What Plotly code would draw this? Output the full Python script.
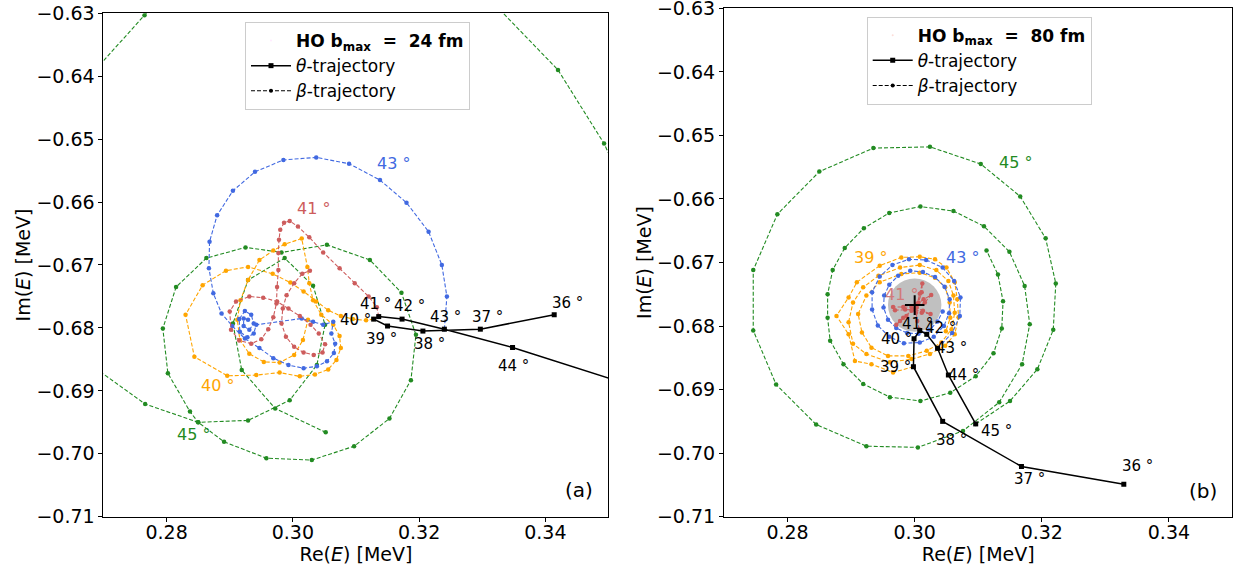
import plotly.graph_objects as go

FONT = "DejaVu Sans"
BLUE = "#4169E1"
RED = "#CD5C5C"
ORANGE = "#FFA500"
GREEN = "#228B22"

# ---------------- data : panel (a)  HO b_max = 24 fm ----------------
theta_angles = [36, 37, 38, 39, 40, 41, 42, 43, 44, 45]
theta_a_x = [0.3414, 0.3297, 0.3206, 0.3150, 0.3128, 0.3136, 0.3173, 0.3240, 0.3348, 0.3600]
theta_a_y = [-0.6779, -0.6802, -0.6805, -0.6797, -0.6786, -0.6782, -0.6786, -0.6802, -0.6831, -0.6912]

beta_a40_x = [0.3128, 0.3116, 0.3095, 0.3076, 0.3056, 0.3037, 0.3017, 0.2996, 0.2968, 0.2929,
              0.2894, 0.2857, 0.2830, 0.2844, 0.2896, 0.2942, 0.2979, 0.3011, 0.3035, 0.3056,
              0.3069, 0.3076, 0.3074, 0.3064, 0.3045, 0.3032, 0.3026, 0.3023, 0.3014, 0.2987,
              0.2969, 0.2947, 0.2929, 0.2917, 0.2912, 0.2916, 0.2931, 0.2954, 0.2979, 0.3002,
              0.3016, 0.3024]
beta_a40_y = [-0.6786, -0.6788, -0.6786, -0.6781, -0.6772, -0.6758, -0.6742, -0.6728, -0.6714, -0.6703,
              -0.6709, -0.6732, -0.6779, -0.6846, -0.6876, -0.6875, -0.6871, -0.6877, -0.6874, -0.6866,
              -0.6851, -0.6832, -0.6813, -0.6795, -0.6779, -0.6756, -0.6729, -0.6703, -0.6658, -0.6667,
              -0.6677, -0.6692, -0.6724, -0.6756, -0.6787, -0.6819, -0.6841, -0.6854, -0.6855, -0.6843,
              -0.6819, -0.6787]

beta_a41_x = [0.3136, 0.3133, 0.3120, 0.3098, 0.3074, 0.3048, 0.3026, 0.3008, 0.2995, 0.2986,
              0.2980, 0.2978, 0.2977, 0.2977, 0.2975, 0.2974, 0.2969, 0.2961, 0.2950, 0.2934,
              0.2915, 0.2902, 0.2900, 0.2910, 0.2931, 0.2953, 0.2975, 0.2993, 0.3011, 0.3028,
              0.3041, 0.3051, 0.3047, 0.3033, 0.3017, 0.3002, 0.2989, 0.2982, 0.2984, 0.2990,
              0.3002, 0.3015, 0.3027]
beta_a41_y = [-0.6782, -0.6767, -0.6750, -0.6729, -0.6705, -0.6680, -0.6656, -0.6639, -0.6630, -0.6633,
              -0.6644, -0.6660, -0.6681, -0.6708, -0.6735, -0.6761, -0.6783, -0.6802, -0.6818, -0.6825,
              -0.6820, -0.6803, -0.6774, -0.6758, -0.6750, -0.6752, -0.6758, -0.6769, -0.6781, -0.6795,
              -0.6809, -0.6826, -0.6839, -0.6843, -0.6839, -0.6830, -0.6814, -0.6793, -0.6769, -0.6748,
              -0.6729, -0.6714, -0.6709]

beta_a43_x = [0.3240, 0.3244, 0.3236, 0.3215, 0.3180, 0.3138, 0.3089, 0.3037, 0.2985, 0.2940,
              0.2905, 0.2880, 0.2868, 0.2867, 0.2874, 0.2887, 0.2904, 0.2924, 0.2947, 0.2969,
              0.2993, 0.3017, 0.3038, 0.3054, 0.3065, 0.3067, 0.3061, 0.3064, 0.3048, 0.3032,
              0.3014, 0.2942, 0.2938, 0.2928, 0.2916, 0.2915, 0.2924, 0.2934, 0.2938, 0.2931,
              0.2922, 0.2922, 0.2929]
beta_a43_y = [-0.6802, -0.6750, -0.6700, -0.6647, -0.6601, -0.6565, -0.6539, -0.6529, -0.6533, -0.6552,
              -0.6582, -0.6621, -0.6663, -0.6705, -0.6745, -0.6777, -0.6797, -0.6817, -0.6832, -0.6848,
              -0.6859, -0.6864, -0.6861, -0.6853, -0.6840, -0.6825, -0.6809, -0.6790, -0.6795, -0.6790,
              -0.6785, -0.6795, -0.6809, -0.6815, -0.6806, -0.6786, -0.6773, -0.6779, -0.6793, -0.6803,
              -0.6797, -0.6785, -0.6787]

beta_a45_x = [0.3600, 0.3545, 0.3493, 0.3420, 0.3290, 0.3120, 0.2960, 0.2830, 0.2765, 0.2660,
              0.2610, 0.2595, 0.2640, 0.2766, 0.2850, 0.2891, 0.2958, 0.3030, 0.3097, 0.3153,
              0.3187, 0.3195, 0.3172, 0.3122, 0.3054, 0.2982, 0.2925, 0.2863, 0.2815, 0.2794,
              0.2802, 0.2837, 0.2850, 0.2929, 0.2995, 0.3038, 0.3051, 0.3032, 0.2987, 0.2929,
              0.2905, 0.2919, 0.2972, 0.3052]
beta_a45_y = [-0.6912, -0.6620, -0.6507, -0.6390, -0.6255, -0.6170, -0.6165, -0.6240, -0.6303, -0.6420,
              -0.6560, -0.6720, -0.6830, -0.6921, -0.6950, -0.6981, -0.7007, -0.7010, -0.6988, -0.6944,
              -0.6883, -0.6811, -0.6744, -0.6692, -0.6668, -0.6680, -0.6672, -0.6689, -0.6735, -0.6801,
              -0.6872, -0.6933, -0.6950, -0.6947, -0.6915, -0.6859, -0.6795, -0.6733, -0.6689, -0.6724,
              -0.6793, -0.6867, -0.6928, -0.6966]

# ---------------- data : panel (b)  HO b_max = 80 fm ----------------
theta_b_x = [0.3329, 0.3168, 0.3044, 0.2998, 0.2999, 0.3008, 0.3019, 0.3036, 0.3053, 0.3096]
theta_b_y = [-0.7049, -0.7021, -0.6950, -0.6864, -0.6820, -0.6807, -0.6813, -0.6835, -0.6877, -0.6954]

beta_b39_x = [0.2998, 0.2966, 0.2932, 0.2906, 0.2896, 0.2877, 0.2896, 0.2909, 0.2945, 0.2979,
              0.3008, 0.3032, 0.3050, 0.3063, 0.3067, 0.3069, 0.3063, 0.3048, 0.3024, 0.2995,
              0.2961, 0.2924, 0.2903, 0.2896, 0.2903, 0.2919, 0.2943, 0.2977, 0.3008, 0.3034,
              0.3053, 0.3061, 0.3063, 0.3058, 0.3042, 0.3019, 0.2990, 0.2958, 0.2932, 0.2917,
              0.2911, 0.2924, 0.2945, 0.2979, 0.3008, 0.3032, 0.3048, 0.3055, 0.3056, 0.3049]
beta_b39_y = [-0.6864, -0.6873, -0.6860, -0.6855, -0.6813, -0.6784, -0.6755, -0.6731, -0.6705, -0.6692,
              -0.6691, -0.6695, -0.6708, -0.6731, -0.6758, -0.6786, -0.6813, -0.6831, -0.6844, -0.6852,
              -0.6857, -0.6844, -0.6828, -0.6794, -0.6763, -0.6739, -0.6721, -0.6708, -0.6704, -0.6712,
              -0.6729, -0.6752, -0.6779, -0.6805, -0.6826, -0.6839, -0.6847, -0.6847, -0.6834, -0.6810,
              -0.6781, -0.6752, -0.6731, -0.6718, -0.6716, -0.6724, -0.6739, -0.6763, -0.6787, -0.6808]

beta_b41_x = [0.3007, 0.3004, 0.3002, 0.3006, 0.3011, 0.3012, 0.3008, 0.3004, 0.3014, 0.3026,
              0.3016, 0.3003, 0.3013, 0.3025, 0.3011, 0.2995, 0.2982, 0.2966, 0.2969, 0.2985,
              0.2997, 0.2987, 0.2977, 0.2971, 0.2982, 0.2995]
beta_b41_y = [-0.6805, -0.6792, -0.6779, -0.6763, -0.6747, -0.6733, -0.6749, -0.6765, -0.6758, -0.6751,
              -0.6763, -0.6771, -0.6776, -0.6781, -0.6779, -0.6770, -0.6770, -0.6770, -0.6775, -0.6774,
              -0.6774, -0.6784, -0.6792, -0.6798, -0.6787, -0.6776]

beta_b43_x = [0.3036, 0.3059, 0.3071, 0.3072, 0.3062, 0.3044, 0.3018, 0.2991, 0.2965, 0.2945,
              0.2933, 0.2933, 0.2942, 0.2960, 0.2983, 0.3008, 0.3030, 0.3046, 0.3054, 0.3055,
              0.3047, 0.3032, 0.3013, 0.2993, 0.2974, 0.2960, 0.2952, 0.2951, 0.2958, 0.2971,
              0.2988, 0.3006, 0.3024, 0.3036, 0.3044]
beta_b43_y = [-0.6835, -0.6811, -0.6784, -0.6755, -0.6729, -0.6708, -0.6696, -0.6695, -0.6704, -0.6722,
              -0.6747, -0.6774, -0.6799, -0.6817, -0.6827, -0.6826, -0.6817, -0.6800, -0.6780, -0.6758,
              -0.6738, -0.6723, -0.6715, -0.6713, -0.6721, -0.6735, -0.6752, -0.6771, -0.6790, -0.6803,
              -0.6811, -0.6812, -0.6806, -0.6793, -0.6777]

beta_b45_x = [0.3096, 0.3150, 0.3193, 0.3218, 0.3222, 0.3206, 0.3166, 0.3104, 0.3024, 0.2935,
              0.2850, 0.2784, 0.2746, 0.2746, 0.2782, 0.2845, 0.2924, 0.3005, 0.3076, 0.3133,
              0.3169, 0.3181, 0.3173, 0.3149, 0.3109, 0.3061, 0.3009, 0.2960, 0.2920, 0.2890,
              0.2871, 0.2863, 0.2863, 0.2867, 0.2888, 0.2919, 0.2961, 0.3009, 0.3056, 0.3096,
              0.3124, 0.3137, 0.3139, 0.3131, 0.3113]
beta_b45_y = [-0.6954, -0.6918, -0.6868, -0.6806, -0.6733, -0.6662, -0.6596, -0.6545, -0.6518, -0.6520,
              -0.6557, -0.6624, -0.6712, -0.6807, -0.6892, -0.6955, -0.6989, -0.6991, -0.6965, -0.6920,
              -0.6860, -0.6797, -0.6737, -0.6683, -0.6643, -0.6619, -0.6612, -0.6622, -0.6646, -0.6677,
              -0.6712, -0.6750, -0.6787, -0.6823, -0.6860, -0.6891, -0.6912, -0.6918, -0.6905, -0.6879,
              -0.6843, -0.6804, -0.6761, -0.6719, -0.6681]

pole_b = (0.3000, -0.6767)
pole_b_radius = 0.0042

x_ticks = [0.28, 0.30, 0.32, 0.34]
y_ticks = [-0.71, -0.70, -0.69, -0.68, -0.67, -0.66, -0.65, -0.64, -0.63]

for a, b in [(beta_a40_x, beta_a40_y), (beta_a41_x, beta_a41_y), (beta_a43_x, beta_a43_y),
             (beta_a45_x, beta_a45_y), (beta_b39_x, beta_b39_y), (beta_b41_x, beta_b41_y),
             (beta_b43_x, beta_b43_y), (beta_b45_x, beta_b45_y)]:
    assert len(a) == len(b)

# ---------------- figure ----------------
fig = go.Figure()


def beta_trace(x, y, color, xa, ya):
    return go.Scatter(x=x, y=y, mode="lines+markers", xaxis=xa, yaxis=ya,
                      line=dict(color=color, width=1.1, dash="4px,2px"),
                      marker=dict(color=color, size=4.5), showlegend=False, hoverinfo="skip")


# pole area (b)
fig.add_shape(type="circle", xref="x2", yref="y2",
              x0=pole_b[0] - pole_b_radius, x1=pole_b[0] + pole_b_radius,
              y0=pole_b[1] - pole_b_radius, y1=pole_b[1] + pole_b_radius,
              fillcolor="#c0c0c0", line=dict(width=0), layer="below")

# panel a
fig.add_trace(beta_trace(beta_a45_x, beta_a45_y, GREEN, "x", "y"))
fig.add_trace(beta_trace(beta_a40_x, beta_a40_y, ORANGE, "x", "y"))
fig.add_trace(beta_trace(beta_a43_x, beta_a43_y, BLUE, "x", "y"))
fig.add_trace(beta_trace(beta_a41_x, beta_a41_y, RED, "x", "y"))
# panel b
fig.add_trace(beta_trace(beta_b45_x, beta_b45_y, GREEN, "x2", "y2"))
fig.add_trace(beta_trace(beta_b39_x, beta_b39_y, ORANGE, "x2", "y2"))
fig.add_trace(beta_trace(beta_b43_x, beta_b43_y, BLUE, "x2", "y2"))
fig.add_trace(beta_trace(beta_b41_x, beta_b41_y, RED, "x2", "y2"))

for xa, ya, lg, title, tx, ty in [("x", "y", "legend", "24", theta_a_x, theta_a_y),
                                  ("x2", "y2", "legend2", "80", theta_b_x, theta_b_y)]:
    fig.add_trace(go.Scatter(x=[None], y=[None], mode="markers", xaxis=xa, yaxis=ya, legend=lg,
                             marker=dict(size=1, opacity=0),
                             name="<b>HO b<sub>max</sub>  =  " + title + " fm</b>"))
    fig.add_trace(go.Scatter(x=tx, y=ty, mode="lines+markers", xaxis=xa, yaxis=ya, legend=lg,
                             line=dict(color="black", width=1.5),
                             marker=dict(color="black", size=5, symbol="square"),
                             name="<i>θ</i>-trajectory", hoverinfo="skip"))
    fig.add_trace(go.Scatter(x=[None], y=[None], mode="lines+markers", xaxis=xa, yaxis=ya, legend=lg,
                             line=dict(color="black", width=1.1, dash="4px,2px"),
                             marker=dict(color="black", size=4),
                             name="<i>β</i>-trajectory"))

fig.add_trace(go.Scatter(x=[pole_b[0]], y=[pole_b[1]], mode="markers", xaxis="x2", yaxis="y2",
                         marker=dict(symbol="cross-thin", size=14, line=dict(color="black", width=2)),
                         showlegend=False, hoverinfo="skip"))

annotations = []
off_a = [(13, -12), (7, -12), (7, 13), (-6, 13), (-18, 1), (-3, -13), (7, -13), (1, -12), (1, 19), None]
off_b = [(14, -18), (8, 13), (9, 19), (-18, 0), (-18, 0), (-2, -7), (14, -6), (14, 0), (15, 0), (21, 7)]
for xr, yr, tx, ty, offs in [("x", "y", theta_a_x, theta_a_y, off_a), ("x2", "y2", theta_b_x, theta_b_y, off_b)]:
    for ang, px, py, o in zip(theta_angles, tx, ty, offs):
        if o is None:
            continue
        annotations.append(dict(x=px, y=py, xref=xr, yref=yr, text=f"{ang} °", showarrow=False,
                                xshift=o[0], yshift=-o[1], font=dict(family=FONT, size=15, color="black")))

for xr, yr, px, py, txt, col in [
        ("x", "y", 0.3159, -0.6539, "43 °", BLUE),
        ("x", "y", 0.3032, -0.6610, "41 °", RED),
        ("x", "y", 0.2881, -0.6891, "40 °", ORANGE),
        ("x", "y", 0.2842, -0.6970, "45 °", GREEN),
        ("x2", "y2", 0.2930, -0.6692, "39 °", ORANGE),
        ("x2", "y2", 0.3076, -0.6692, "43 °", BLUE),
        ("x2", "y2", 0.3158, -0.6543, "45 °", GREEN),
        ("x2", "y2", 0.2979, -0.6751, "41 °", "#d27a7a")]:
    annotations.append(dict(x=px, y=py, xref=xr, yref=yr, text=txt, showarrow=False,
                            font=dict(family=FONT, size=16, color=col)))

annotations.append(dict(x=0.3453, y=-0.7058, xref="x", yref="y", text="(a)", showarrow=False,
                        font=dict(family=FONT, size=20, color="black")))
annotations.append(dict(x=0.3454, y=-0.7059, xref="x2", yref="y2", text="(b)", showarrow=False,
                        font=dict(family=FONT, size=20, color="black")))

axis_common = dict(showline=True, mirror=True, linecolor="black", linewidth=1, ticks="outside",
                   ticklen=4, tickwidth=1, tickcolor="black", showgrid=False, zeroline=False,
                   automargin=False, ticklabeloverflow="allow",
                   tickfont=dict(family=FONT, size=19, color="black"),
                   title_font=dict(family=FONT, size=19, color="black"))

fig.update_layout(
    width=1242, height=574, margin=dict(l=0, r=0, t=0, b=0, autoexpand=False),
    paper_bgcolor="white", plot_bgcolor="white",
    font=dict(family=FONT, color="black"),
    xaxis=dict(domain=[0.08333, 0.48993], range=[0.27, 0.35], anchor="y", tickvals=x_ticks,
               tickformat=".2f", ticklabelstandoff=-5,
               title=dict(text="Re(<i>E</i>) [MeV]", standoff=0), **axis_common),
    yaxis=dict(domain=[0.09983, 0.97683], range=[-0.710001, -0.629999], anchor="x", tickvals=y_ticks,
               tickformat=".2f", title=dict(text="Im(<i>E</i>) [MeV]", standoff=0), **axis_common),
    xaxis2=dict(domain=[0.58293, 0.99235], range=[0.27, 0.35], anchor="y2", tickvals=x_ticks,
                tickformat=".2f", ticklabelstandoff=-5,
                title=dict(text="Re(<i>E</i>) [MeV]", standoff=0), **axis_common),
    yaxis2=dict(domain=[0.09983, 0.98554], range=[-0.710001, -0.629999], anchor="x2", tickvals=y_ticks,
                tickformat=".2f", title=dict(text="Im(<i>E</i>) [MeV]", standoff=0), **axis_common),
    legend=dict(x=0.19726, y=0.96167, xanchor="left", yanchor="top", bgcolor="rgba(255,255,255,0.85)",
                bordercolor="#cccccc", borderwidth=1, font=dict(family=FONT, size=17, color="black"),
                tracegroupgap=0, itemwidth=40),
    legend2=dict(x=0.69783, y=0.97091, xanchor="left", yanchor="top", bgcolor="rgba(255,255,255,0.85)",
                 bordercolor="#cccccc", borderwidth=1, font=dict(family=FONT, size=17, color="black"),
                 tracegroupgap=0, itemwidth=40),
    annotations=annotations,
)

# remove the default 8 px page margin so the figure sits at the window origin
fig.write_html("out.html", config={"displayModeBar": False},
               post_script="document.body.style.margin='0px';")
